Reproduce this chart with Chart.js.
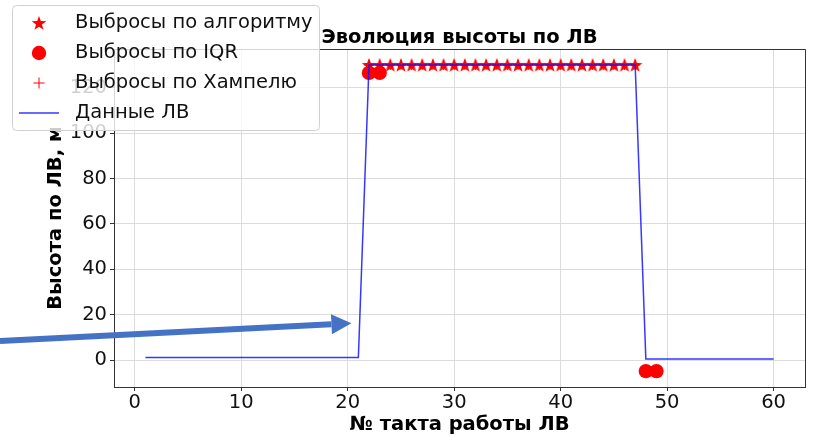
<!DOCTYPE html>
<html>
<head>
<meta charset="utf-8">
<script src="https://cdn.jsdelivr.net/npm/chart.js@4.4.1/dist/chart.umd.min.js"></script>
<style>
  body { margin: 0; background: #ffffff; }
  canvas { display: block; }
</style>
</head>
<body>
<canvas id="myChart" width="814" height="438"></canvas>
<script>
// data
const steps = [1, 2, 3, 4, 5, 6, 7, 8, 9, 10, 11, 12, 13, 14, 15, 16, 17, 18, 19, 20,
    21, 22, 23, 24, 25, 26, 27, 28, 29, 30, 31, 32, 33, 34, 35, 36, 37, 38, 39, 40,
    41, 42, 43, 44, 45, 46, 47, 48, 49, 50, 51, 52, 53, 54, 55, 56, 57, 58, 59, 60];
const heights = [1.2, 1.2, 1.2, 1.2, 1.2, 1.2, 1.2, 1.2, 1.2, 1.2, 1.2, 1.2, 1.2, 1.2, 1.2, 1.2, 1.2, 1.2, 1.2, 1.2,
    1.2, 130, 130, 130, 130, 130, 130, 130, 130, 130, 130, 130, 130, 130, 130, 130, 130, 130, 130, 130,
    130, 130, 130, 130, 130, 130, 130, 0.5, 0.5, 0.5, 0.5, 0.5, 0.5, 0.5, 0.5, 0.5, 0.5, 0.5, 0.5, 0.5];

const algoX = [22, 23, 24, 25, 26, 27, 28, 29, 30, 31, 32, 33, 34, 35, 36, 37, 38, 39, 40, 41, 42, 43, 44, 45, 46, 47];
const algoY = [130, 130, 130, 130, 130, 130, 130, 130, 130, 130, 130, 130, 130, 130, 130, 130, 130, 130, 130, 130, 130, 130, 130, 130, 130, 130];

const iqrX = [22, 23, 48, 49];
const iqrY = [126.5, 126.5, -4.8, -4.8];

const hampelX = [22, 23, 24, 25, 26, 27, 28, 29, 30, 31, 32, 33, 34, 35, 36, 37, 38, 39, 40, 41, 42, 43, 44, 45, 46, 47];
const hampelY = [130, 130, 130, 130, 130, 130, 130, 130, 130, 130, 130, 130, 130, 130, 130, 130, 130, 130, 130, 130, 130, 130, 130, 130, 130, 130];

const xTicks = [0, 10, 20, 30, 40, 50, 60];
const yTicks = [0, 20, 40, 60, 80, 100, 120];

const labels = ['Выбросы по алгоритму', 'Выбросы по IQR', 'Выбросы по Хампелю', 'Данные ЛВ'];

const FONT = 'DejaVu Sans';
const FS = 19.5;
const BLUE = 'rgba(20, 20, 255, 0.85)';

function pts(xs, ys) {
    return xs.map((x, i) => ({x: x, y: ys[i]}));
}

// filled 5-point star like matplotlib's '*'
function makeStar(size, color) {
    const c = document.createElement('canvas');
    c.width = size;
    c.height = size;
    const g = c.getContext('2d');
    const R = size / 2 - 0.3, r = R * 0.40;
    g.beginPath();
    for (let i = 0; i < 10; i++) {
        const a = -Math.PI / 2 + i * Math.PI / 5;
        const rr = i % 2 === 0 ? R : r;
        g.lineTo(size / 2 + rr * Math.cos(a), size / 2 + 0.6 + rr * Math.sin(a));
    }
    g.closePath();
    g.fillStyle = color;
    g.fill();
    return c;
}

document.addEventListener("DOMContentLoaded", function() {
    const star = makeStar(16, '#ff0000');

    const framePlugin = {
        id: 'frame',
        afterDatasetsDraw(chart) {
            const {ctx, chartArea: a} = chart;
            ctx.save();
            ctx.strokeStyle = '#333333';
            ctx.lineWidth = 1;
            ctx.beginPath();
            ctx.moveTo(a.left, a.top + 0.5);
            ctx.lineTo(a.right + 0.5, a.top + 0.5);
            ctx.lineTo(a.right + 0.5, a.bottom);
            ctx.stroke();
            ctx.restore();
        }
    };

    const titlePlugin = {
        id: 'plotTitle',
        afterDraw(chart) {
            const {ctx, chartArea: a} = chart;
            ctx.save();
            ctx.font = 'bold ' + FS + 'px "' + FONT + '"';
            ctx.fillStyle = '#000000';
            ctx.textAlign = 'center';
            ctx.textBaseline = 'middle';
            ctx.fillText('Эволюция высоты по ЛВ', (a.left + a.right) / 2, 38);
            ctx.restore();
        }
    };

    // the blue pointer arrow drawn on top of the figure
    const arrowPlugin = {
        id: 'arrow',
        afterDraw(chart) {
            const {ctx} = chart;
            const tx = chart.scales.x.getPixelForValue(20.35);
            const ty = chart.scales.y.getPixelForValue(16.3);
            const sx = 0, sy = 341;
            const ang = Math.atan2(ty - sy, tx - sx);
            const headLen = 20, headW = 10;
            const bx = tx - headLen * Math.cos(ang), by = ty - headLen * Math.sin(ang);
            ctx.save();
            ctx.strokeStyle = '#4472c4';
            ctx.fillStyle = '#4472c4';
            ctx.lineWidth = 6;
            ctx.beginPath();
            ctx.moveTo(sx, sy);
            ctx.lineTo(bx, by);
            ctx.stroke();
            ctx.beginPath();
            ctx.moveTo(tx, ty);
            ctx.lineTo(bx + headW * Math.sin(ang), by - headW * Math.cos(ang));
            ctx.lineTo(bx - headW * Math.sin(ang), by + headW * Math.cos(ang));
            ctx.closePath();
            ctx.fill();
            ctx.restore();
        }
    };

    // matplotlib style legend sitting over the top-left corner
    const legendPlugin = {
        id: 'mplLegend',
        afterDraw(chart) {
            const {ctx} = chart;
            const x0 = 12.5, y0 = 5.5, w = 307, h = 125, rad = 4;
            ctx.save();
            ctx.beginPath();
            ctx.roundRect(x0, y0, w, h, rad);
            ctx.fillStyle = 'rgba(255,255,255,0.8)';
            ctx.fill();
            ctx.strokeStyle = '#d0d0d0';
            ctx.lineWidth = 1;
            ctx.stroke();

            ctx.font = FS + 'px "' + FONT + '"';
            ctx.textBaseline = 'middle';
            ctx.textAlign = 'left';
            labels.forEach((txt, i) => {
                const cy = 23 + i * 30, cx = 39;
                if (i === 0) {
                    ctx.drawImage(star, cx - star.width / 2, cy - star.height / 2);
                } else if (i === 1) {
                    ctx.beginPath();
                    ctx.arc(cx, cy, 7.2, 0, Math.PI * 2);
                    ctx.fillStyle = '#ff0000';
                    ctx.fill();
                } else if (i === 2) {
                    ctx.beginPath();
                    ctx.moveTo(cx - 5.5, cy);
                    ctx.lineTo(cx + 5.5, cy);
                    ctx.moveTo(cx, cy - 5.5);
                    ctx.lineTo(cx, cy + 5.5);
                    ctx.strokeStyle = '#ff0000';
                    ctx.lineWidth = 1;
                    ctx.stroke();
                } else {
                    ctx.beginPath();
                    ctx.moveTo(19, cy);
                    ctx.lineTo(59, cy);
                    ctx.strokeStyle = BLUE;
                    ctx.lineWidth = 1.5;
                    ctx.stroke();
                }
                ctx.fillStyle = '#111111';
                ctx.fillText(txt, 75, cy);
            });
            ctx.restore();
        }
    };

    const ctx = document.getElementById('myChart').getContext('2d');
    const myChart = new Chart(ctx, {
        type: 'scatter',
        data: {
            datasets: [{
                label: labels[0],
                data: pts(algoX, algoY),
                pointStyle: star,
                pointRadius: 8,
                order: 1
            }, {
                label: labels[1],
                data: pts(iqrX, iqrY),
                pointStyle: 'circle',
                pointRadius: 7.2,
                backgroundColor: '#ff0000',
                borderWidth: 0,
                order: 2
            }, {
                label: labels[2],
                data: pts(hampelX, hampelY),
                pointStyle: 'cross',
                pointRadius: 5,
                borderColor: '#ff0000',
                borderWidth: 1,
                order: 3
            }, {
                label: labels[3],
                data: pts(steps, heights),
                showLine: true,
                pointRadius: 0,
                borderColor: BLUE,
                borderWidth: 1.5,
                order: 0
            }]
        },
        options: {
            responsive: false,
            animation: false,
            layout: {padding: {left: 0, right: 7, top: 49, bottom: 0}},
            scales: {
                x: {
                    type: 'linear',
                    min: -1.95,
                    max: 62.95,
                    afterFit: (s) => { s.height = 51; },
                    afterBuildTicks: (s) => { s.ticks = xTicks.map(v => ({value: v})); },
                    grid: {color: '#dcdcdc', lineWidth: 1, tickLength: 4, tickColor: '#333333'},
                    border: {color: '#333333', width: 1},
                    ticks: {
                        padding: 0,
                        color: '#111111',
                        font: {family: FONT, size: FS}
                    },
                    title: {
                        display: true,
                        text: '№ такта работы ЛВ',
                        color: '#000000',
                        padding: {top: 0, bottom: 1},
                        font: {family: FONT, size: FS, weight: 'bold'}
                    }
                },
                y: {
                    min: -11.8,
                    max: 137,
                    afterFit: (s) => { s.width = 114; },
                    afterBuildTicks: (s) => { s.ticks = yTicks.map(v => ({value: v})); },
                    grid: {color: '#dcdcdc', lineWidth: 1, tickLength: 4, tickColor: '#333333'},
                    border: {color: '#333333', width: 1},
                    ticks: {
                        padding: 3,
                        color: '#111111',
                        font: {family: FONT, size: FS}
                    },
                    title: {
                        display: true,
                        text: 'Высота по ЛВ, м',
                        color: '#000000',
                        padding: {top: 44, bottom: 0},
                        font: {family: FONT, size: FS, weight: 'bold'}
                    }
                }
            },
            plugins: {
                legend: {display: false},
                title: {display: false},
                tooltip: {enabled: false}
            }
        },
        plugins: [framePlugin, titlePlugin, arrowPlugin, legendPlugin]
    });
});
</script>
</body>
</html>
